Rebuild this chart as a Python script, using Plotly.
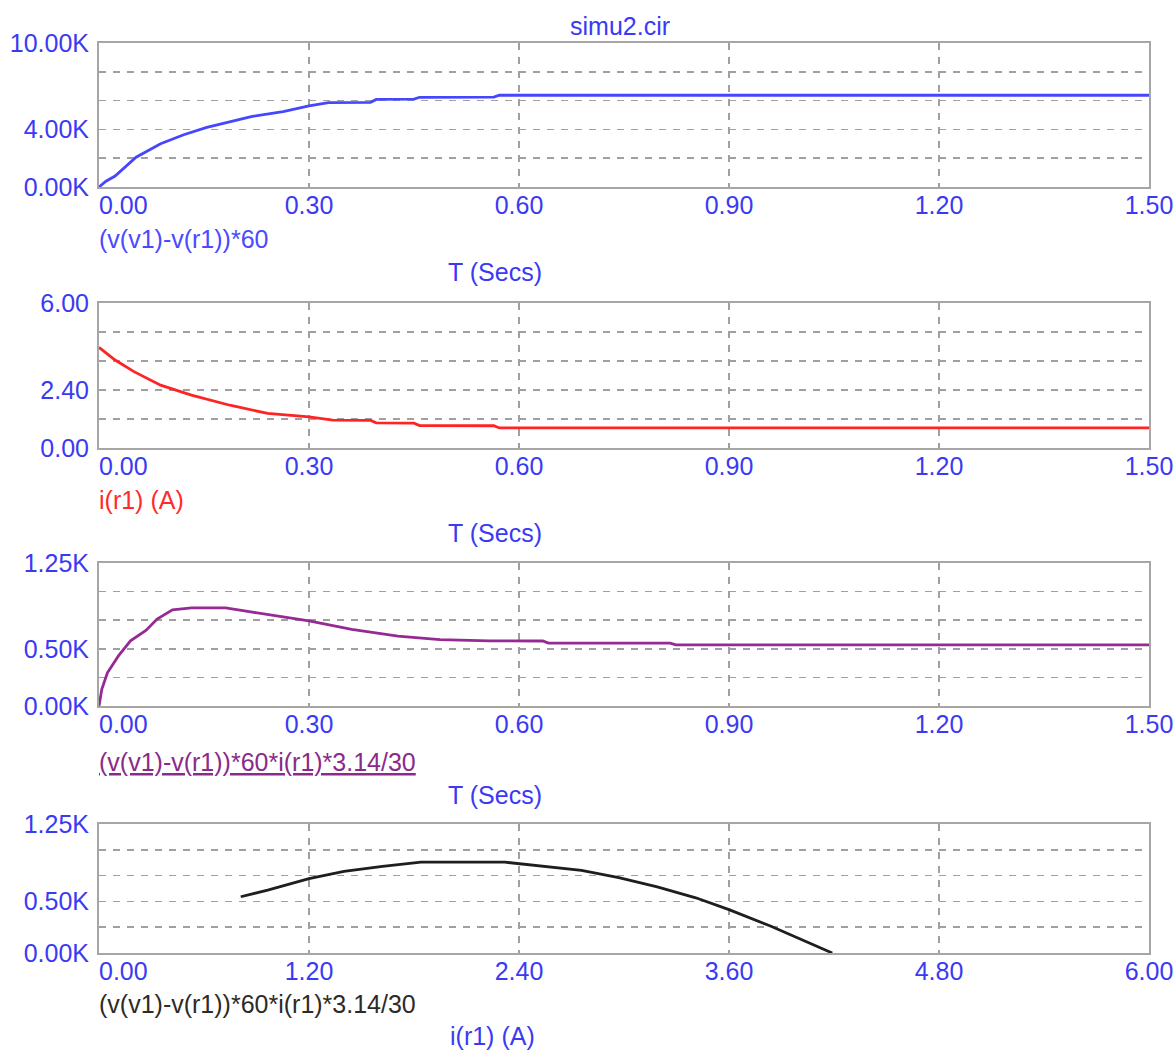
import plotly.graph_objects as go

# ---------------- data ----------------
# Panel 1: (v(v1)-v(r1))*60 vs time
t1 = [0, 0.010, 0.023, 0.053, 0.088, 0.121, 0.154, 0.187, 0.219, 0.263, 0.300,
      0.328, 0.388, 0.396, 0.450, 0.458, 0.564, 0.572, 1.5]
w1 = [0, 400, 760, 2070, 3010, 3630, 4140, 4550, 4900, 5240, 5630,
      5860, 5880, 6080, 6100, 6230, 6240, 6370, 6370]

# Panel 2: i(r1) vs time
t2 = [0, 0.023, 0.050, 0.088, 0.132, 0.187, 0.241, 0.300, 0.334, 0.388, 0.396,
      0.450, 0.458, 0.564, 0.572, 1.5]
i2 = [4.16, 3.64, 3.16, 2.60, 2.19, 1.77, 1.43, 1.29, 1.15, 1.14, 1.04,
      1.03, 0.93, 0.92, 0.83, 0.83]

# Panel 3: (v(v1)-v(r1))*60*i(r1)*3.14/30 vs time
t3 = [0, 0.004, 0.012, 0.028, 0.045, 0.067, 0.083, 0.105, 0.132, 0.181, 0.219,
      0.268, 0.300, 0.361, 0.427, 0.487, 0.558, 0.634, 0.642, 0.816, 0.824, 1.5]
p3 = [0, 146, 290, 440, 570, 660, 760, 840, 857, 857, 820,
      775, 745, 670, 610, 580, 570, 568, 550, 549, 535, 535]

# Panel 4: (v(v1)-v(r1))*60*i(r1)*3.14/30 vs i(r1)
i4 = [0.81, 0.964, 1.20, 1.40, 1.62, 1.84, 2.32, 2.54, 2.757, 2.97, 3.19,
      3.41, 3.60, 3.84, 4.06, 4.19]
p4 = [545, 610, 720, 790, 840, 880, 880, 840, 800, 730, 640,
      535, 420, 260, 100, 0]

# tick values / labels
xt_time = [0, 0.3, 0.6, 0.9, 1.2, 1.5]
xl_time = ["0.00", "0.30", "0.60", "0.90", "1.20", "1.50"]
xt_cur = [0, 1.2, 2.4, 3.6, 4.8, 6.0]
xl_cur = ["0.00", "1.20", "2.40", "3.60", "4.80", "6.00"]
yt1 = [0, 2000, 4000, 6000, 8000, 10000]
yl1 = ["0.00K", "", "4.00K", "", "", "10.00K"]
yt2 = [0, 1.2, 2.4, 3.6, 4.8, 6.0]
yl2 = ["0.00", "", "2.40", "", "", "6.00"]
yt3 = [0, 250, 500, 750, 1000, 1250]
yl3 = ["0.00K", "", "0.50K", "", "", "1.25K"]

title_text = "simu2.cir"
lab1 = "(v(v1)-v(r1))*60"
lab2 = "i(r1) (A)"
lab3 = "(v(v1)-v(r1))*60*i(r1)*3.14/30"
lab4 = "(v(v1)-v(r1))*60*i(r1)*3.14/30"
xtitle_time = "T (Secs)"
xtitle_cur = "i(r1) (A)"

# ---------------- styling ----------------
W, H = 1176, 1050
FONT = "Liberation Sans, Arial, sans-serif"
FS = 25
BLUE_TXT = "#3a3af5"
FRAME = "#a6a6a6"
GRID = "#a0a0a0"
NB = "\u00a0"


def px_x(p):
    return p / W


def px_y(p):
    return 1 - p / H


x_dom = [px_x(99), px_x(1149)]
panels = [(43, 187), (303, 448), (563, 706), (824, 953)]


def first_pad(labels):
    return [NB * 7 + labels[0]] + labels[1:]


fig = go.Figure()

colors = ["#4646ff", "#ff2424", "#952a95", "#1e1e1e"]
series = [(t1, w1), (t2, i2), (t3, p3), (i4, p4)]
for k, (xs, ys) in enumerate(series):
    sfx = "" if k == 0 else str(k + 1)
    fig.add_trace(go.Scatter(x=xs, y=ys, mode="lines",
                             line=dict(color=colors[k], width=2.8),
                             xaxis="x" + sfx, yaxis="y" + sfx,
                             hoverinfo="skip"))

yinfo = [(yt1, yl1, [0, 10000]), (yt2, yl2, [0, 6]), (yt3, yl3, [0, 1250]),
         (yt3, yl3, [0, 1250])]
xinfo = [(xt_time, xl_time, [0, 1.5]), (xt_time, xl_time, [0, 1.5]),
         (xt_time, xl_time, [0, 1.5]), (xt_cur, xl_cur, [0, 6])]

for k in range(4):
    sfx = "" if k == 0 else str(k + 1)
    top, bot = panels[k]
    xt, xl, xr = xinfo[k]
    yt, yl, yr = yinfo[k]
    common = dict(showline=True, mirror=True, linecolor=FRAME, linewidth=2,
                  showgrid=True, gridcolor=GRID, gridwidth=1.6,
                  griddash="7px,7px", zeroline=False, ticks="",
                  automargin=False,
                  tickfont=dict(family=FONT, size=FS, color=BLUE_TXT),
                  fixedrange=True)
    fig.layout["xaxis" + sfx] = dict(
        domain=x_dom, anchor="y" + sfx, range=xr, tickmode="array",
        tickvals=xt, ticktext=first_pad(xl), ticklabelstandoff=-5, **common)
    fig.layout["yaxis" + sfx] = dict(
        domain=[px_y(bot), px_y(top)], anchor="x" + sfx, range=yr,
        tickmode="array", tickvals=yt, ticktext=yl, ticklabelstandoff=3,
        **common)

ann = []


def add_text(text, xpx, ypx, color, xanchor="left"):
    ann.append(dict(text=text, x=px_x(xpx), y=px_y(ypx), xref="paper",
                    yref="paper", xanchor=xanchor, yanchor="middle",
                    showarrow=False,
                    font=dict(family=FONT, size=FS, color=color)))


add_text(title_text, 620, 26, BLUE_TXT, "center")
add_text(lab1, 97, 239, "#4a4aff")
add_text(lab2, 97, 500, "#ff2a2a")
add_text("<u>" + lab3 + "</u>", 97, 762, "#8a2a8a")
add_text(lab4, 97, 1004, "#2e2a26")
add_text(xtitle_time, 495, 272, BLUE_TXT, "center")
add_text(xtitle_time, 495, 533, BLUE_TXT, "center")
add_text(xtitle_time, 495, 795, BLUE_TXT, "center")
add_text(xtitle_cur, 492, 1036, BLUE_TXT, "center")

fig.update_layout(width=W, height=H, margin=dict(l=0, r=0, t=0, b=0),
                  paper_bgcolor="white", plot_bgcolor="white",
                  showlegend=False, annotations=ann)

# remove the default page margin so the figure fills the window exactly
page_js = ("document.documentElement.style.margin='0';"
           "document.body.style.margin='0';"
           "document.documentElement.style.overflow='hidden';"
           "document.body.style.overflow='hidden';")
fig.write_html("out.html", post_script=page_js,
               config={"displayModeBar": False, "staticPlot": True})
